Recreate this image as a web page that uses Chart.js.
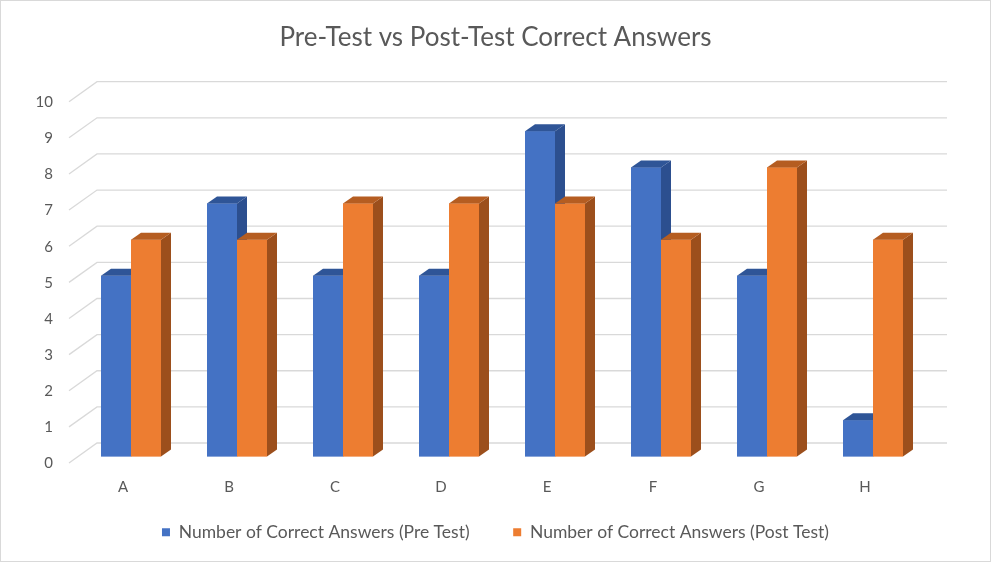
<!DOCTYPE html>
<html>
<head>
<meta charset="utf-8">
<script src="https://cdn.jsdelivr.net/npm/chart.js@4.4.0/dist/chart.umd.min.js"></script>
<style>
  html, body { margin: 0; padding: 0; background: #fff; }
  canvas { display: block; }
</style>
</head>
<body>
<canvas id="chart" width="991" height="562"></canvas>
<script>
const categories = ['A', 'B', 'C', 'D', 'E', 'F', 'G', 'H'];
const preTest = [5, 7, 5, 5, 9, 8, 5, 1];
const postTest = [6, 6, 7, 7, 7, 6, 8, 6];
const yMin = 0;
const yMax = 10;
const yStep = 1;

const faceColors = [
    { front: '#4472c4', side: '#2c4f8f', top: '#2f5597' },
    { front: '#ed7d31', side: '#9c4f1c', top: '#b55d21' }
];

const DEPTH_X = 10;
const DEPTH_Y = 7;

// back wall grid with the little diagonal "floor" lines on the left
const wallGrid = {
    id: 'wallGrid',
    beforeDatasetsDraw(chart) {
        const { ctx, chartArea, scales: { y } } = chart;
        ctx.save();
        ctx.strokeStyle = '#d9d9d9';
        ctx.lineWidth = 1.3;
        y.ticks.forEach(t => {
            const py = y.getPixelForValue(t.value);
            ctx.beginPath();
            ctx.moveTo(chartArea.left - 9, py + 6.5);
            ctx.lineTo(chartArea.left + 19, py - 13.5);
            ctx.lineTo(chartArea.right + 21, py - 13.5);
            ctx.stroke();
        });
        ctx.restore();
    }
};

// redraw the bars with side and top faces, category by category
const bars3d = {
    id: 'bars3d',
    afterDatasetsDraw(chart) {
        const ctx = chart.ctx;
        const metas = chart.data.datasets.map((d, i) => chart.getDatasetMeta(i));
        ctx.save();
        for (let j = 0; j < categories.length; j++) {
            metas.forEach((meta, i) => {
                const bar = meta.data[j];
                if (!bar) return;
                const { x, y, base, width } = bar.getProps(['x', 'y', 'base', 'width'], true);
                const l = x - width / 2, r = x + width / 2;
                const c = faceColors[i];

                ctx.fillStyle = c.front;
                ctx.fillRect(l, y, width, base - y);

                ctx.fillStyle = c.side;
                ctx.beginPath();
                ctx.moveTo(r, y);
                ctx.lineTo(r + DEPTH_X, y - DEPTH_Y);
                ctx.lineTo(r + DEPTH_X, base - DEPTH_Y);
                ctx.lineTo(r, base);
                ctx.closePath();
                ctx.fill();

                ctx.fillStyle = c.top;
                ctx.beginPath();
                ctx.moveTo(l, y);
                ctx.lineTo(l + DEPTH_X, y - DEPTH_Y);
                ctx.lineTo(r + DEPTH_X, y - DEPTH_Y);
                ctx.lineTo(r, y);
                ctx.closePath();
                ctx.fill();
            });
        }
        ctx.restore();
    }
};

const frame = {
    id: 'frame',
    beforeDraw(chart) {
        const ctx = chart.ctx;
        ctx.save();
        ctx.fillStyle = '#fff';
        ctx.fillRect(0, 0, chart.width, chart.height);
        ctx.strokeStyle = '#d9d9d9';
        ctx.lineWidth = 1;
        ctx.strokeRect(0.5, 0.5, chart.width - 1, chart.height - 1);
        ctx.restore();
    }
};

new Chart(document.getElementById('chart'), {
    type: 'bar',
    data: {
        labels: categories,
        datasets: [
            {
                label: 'Number of Correct Answers (Pre Test)',
                data: preTest,
                backgroundColor: faceColors[0].front,
                borderWidth: 0
            },
            {
                label: 'Number of Correct Answers (Post Test)',
                data: postTest,
                backgroundColor: faceColors[1].front,
                borderWidth: 0
            }
        ]
    },
    options: {
        responsive: false,
        animation: false,
        devicePixelRatio: 1,
        categoryPercentage: 0.566,
        barPercentage: 1,
        layout: { padding: { left: 0, right: 0, top: 0, bottom: 11 } },
        scales: {
            x: {
                afterFit(scale) { scale.height = 41; },
                grid: { display: false, drawTicks: false },
                border: { display: false },
                ticks: {
                    color: '#595959',
                    font: { family: 'Lato', size: 15 },
                    padding: 22,
                    labelOffset: -8
                }
            },
            y: {
                min: yMin,
                max: yMax,
                afterFit(scale) { scale.width = 78; },
                grid: { display: false, drawTicks: false },
                border: { display: false },
                ticks: {
                    stepSize: yStep,
                    color: '#595959',
                    font: { family: 'Lato', size: 15 },
                    padding: 25,
                    labelOffset: 7
                }
            },
            // empty right-hand strip that leaves room for the depth of the back wall
            yRight: {
                position: 'right',
                afterFit(scale) { scale.width = 65; },
                grid: { display: false, drawTicks: false },
                border: { display: false },
                ticks: { display: false }
            }
        },
        plugins: {
            title: {
                display: true,
                text: 'Pre-Test vs Post-Test Correct Answers',
                color: '#595959',
                font: { family: 'Lato', size: 26, weight: 'normal' },
                padding: { top: 22, bottom: 42 }
            },
            legend: {
                position: 'bottom',
                labels: {
                    color: '#595959',
                    font: { family: 'Lato', size: 17.5 },
                    boxWidth: 8,
                    boxHeight: 8,
                    padding: 26,
                    generateLabels(chart) {
                        const items = Chart.defaults.plugins.legend.labels.generateLabels(chart);
                        // wider gap between the two entries
                        items[0].text += '\u2003 ';
                        return items;
                    }
                }
            },
            tooltip: { enabled: false }
        }
    },
    plugins: [frame, wallGrid, bars3d]
});
</script>
</body>
</html>
